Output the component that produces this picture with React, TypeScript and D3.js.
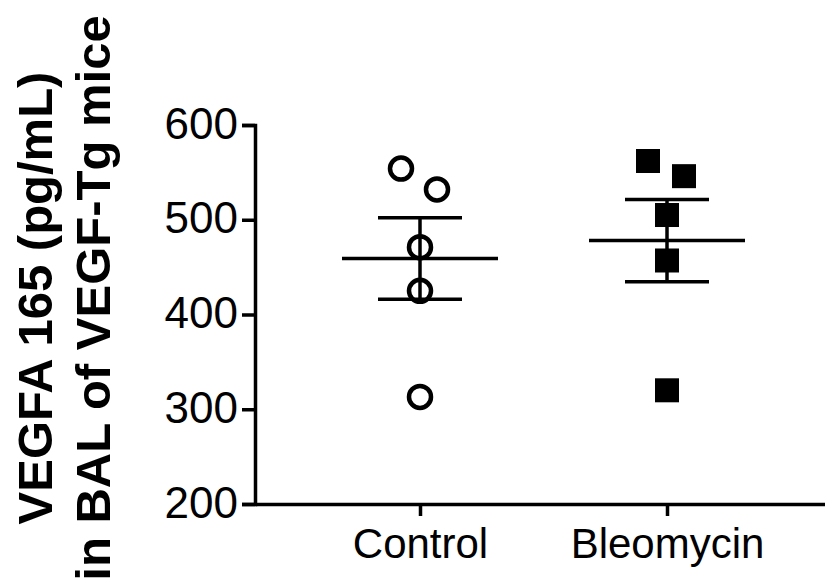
import React, { useEffect, useRef } from 'react';
import * as d3 from 'd3';

const categories = ['Control', 'Bleomycin'];
const controlValues = [554, 532, 471, 425, 313];
const bleomycinValues = [562, 546, 505, 457, 320];
const yTicks = [200, 300, 400, 500, 600];
const titleLines = ['VEGFA 165 (pg/mL)', 'in BAL of VEGF-Tg mice'];

// horizontal nudge (px) for points that would overlap
const nudge = [-19, 17, 0, 0, 0];

function App() {
  const ref = useRef<SVGSVGElement | null>(null);

  useEffect(() => {
    const element = ref.current;
    if (!element) return;
    const svg = d3.select(element);
    svg.selectAll('*').remove();

    const font = "'Liberation Sans', Arial, sans-serif";
    const left = 255;
    const top = 125;
    const bottom = 504;

    const y = d3.scaleLinear().domain([200, 600]).range([bottom, top]);
    const x = d3.scalePoint<string>().domain(categories).range([left, 832]).padding(0.668);

    // axes
    const yAxis = d3.axisLeft(y).tickValues(yTicks).tickSize(13).tickPadding(4);
    const gy = svg.append('g').attr('transform', `translate(${left},0)`).call(yAxis);
    gy.select('.domain').attr('stroke', '#000').attr('stroke-width', 3.5);
    gy.selectAll('.tick line').attr('stroke', '#000').attr('stroke-width', 3.5);
    gy.selectAll('.tick text')
      .attr('fill', '#000')
      .style('font-family', font)
      .style('font-size', '44px')
      .attr('dy', '0.3em');

    const xAxis = d3.axisBottom(x).tickSize(12).tickPadding(12).tickSizeOuter(0);
    const gx = svg.append('g').attr('transform', `translate(0,${bottom})`).call(xAxis);
    gx.select('.domain').attr('stroke', '#000').attr('stroke-width', 3.5);
    gx.selectAll('.tick line').attr('stroke', '#000').attr('stroke-width', 3.5);
    gx.selectAll('.tick text')
      .attr('fill', '#000')
      .style('font-family', font)
      .style('font-size', '42px');

    const groups = [
      { name: categories[0], values: controlValues, shape: 'circle' },
      { name: categories[1], values: bleomycinValues, shape: 'square' },
    ];

    groups.forEach((g) => {
      const cx = x(g.name) as number;
      const mean = d3.mean(g.values) as number;
      const sem = (d3.deviation(g.values) as number) / Math.sqrt(g.values.length);
      const lines = svg.append('g').attr('stroke', '#000').attr('stroke-width', 3.5);
      // mean
      lines.append('line').attr('x1', cx - 78).attr('x2', cx + 78).attr('y1', y(mean)).attr('y2', y(mean));
      // sem
      lines.append('line').attr('x1', cx).attr('x2', cx).attr('y1', y(mean + sem)).attr('y2', y(mean - sem));
      lines.append('line').attr('x1', cx - 42).attr('x2', cx + 42).attr('y1', y(mean + sem)).attr('y2', y(mean + sem));
      lines.append('line').attr('x1', cx - 42).attr('x2', cx + 42).attr('y1', y(mean - sem)).attr('y2', y(mean - sem));

      if (g.shape === 'circle') {
        svg.append('g')
          .selectAll('circle')
          .data(g.values)
          .join('circle')
          .attr('cx', (d, i) => cx + nudge[i])
          .attr('cy', (d) => y(d))
          .attr('r', 11)
          .attr('fill', 'none')
          .attr('stroke', '#000')
          .attr('stroke-width', 4.5);
      } else {
        svg.append('g')
          .selectAll('rect')
          .data(g.values)
          .join('rect')
          .attr('x', (d, i) => cx + nudge[i] - 12)
          .attr('y', (d) => y(d) - 12)
          .attr('width', 24)
          .attr('height', 24)
          .attr('fill', '#000');
      }
    });

    // y title
    const title = svg.append('text')
      .attr('transform', 'translate(0,298) rotate(-90)')
      .attr('text-anchor', 'middle')
      .style('font-family', font)
      .style('font-weight', 'bold')
      .style('font-size', '49px')
      .attr('fill', '#000');
    titleLines.forEach((t, i) => {
      title.append('tspan').attr('x', 0).attr('y', 52 + i * 58).text(t);
    });
  }, []);

  return (
    <svg
      ref={ref}
      width={825}
      height={584}
      style={{ position: 'absolute', left: 0, top: 0, background: '#fff' }}
    />
  );
}

export default App;
